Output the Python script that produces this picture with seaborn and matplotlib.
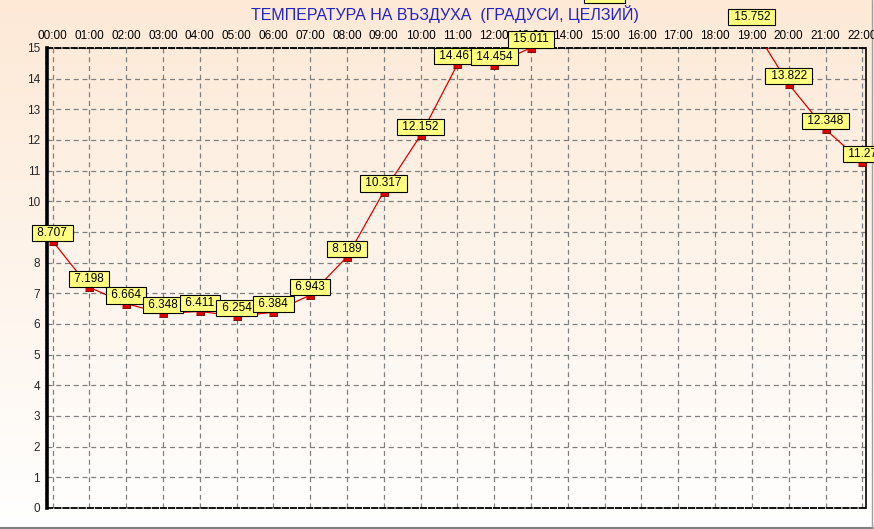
import numpy as np
import pandas as pd
import matplotlib
matplotlib.use("Agg")
import matplotlib.pyplot as plt
import seaborn as sns

# --- Data ---
hours = list(range(23))
hour_labels = [f"{h:02d}:00" for h in hours]
# 14:00-18:00 are above the 15 limit; only rough estimates (their labels fall off the chart)
temps = [8.707, 7.198, 6.664, 6.348, 6.411, 6.254, 6.384, 6.943, 8.189, 10.317,
         12.152, 14.467, 14.454, 15.011, 16.9, 16.45, 17.1, 17.0, 16.8, 15.752,
         13.822, 12.348, 11.27]
label_texts = ["8.707", "7.198", "6.664", "6.348", "6.411", "6.254", "6.384", "6.943",
               "8.189", "10.317", "12.152", "14.467", "14.454", "15.011", "16.9", "16.45",
               "17.1", "17.0", "16.8", "15.752", "13.822", "12.348", "11.27"]
y_ticks = list(range(16))
title = "ТЕМПЕРАТУРА НА ВЪЗДУХА  (ГРАДУСИ, ЦЕЛЗИЙ)"

df = pd.DataFrame({"hour": hours, "temp": temps})

sns.set_style("white")
plt.rcParams['font.family'] = ['Liberation Sans', 'DejaVu Sans']

fig = plt.figure(figsize=(8.74, 5.29), dpi=100)

# gradient background (peach -> white)
bg = fig.add_axes([0, 0, 1, 1], zorder=-10)
top = np.array([253, 233, 214]) / 255
bot = np.array([255, 255, 255]) / 255
t = np.linspace(0, 1, 256)[:, None]
grad = top[None, :] * (1 - t) + bot[None, :] * t
bg.imshow(grad[:, None, :], aspect='auto', extent=[0, 1, 0, 1])
bg.set_axis_off()
# window frame lines on right / bottom
bg.plot([0, 1], [0.001, 0.001], color='#808080', lw=1.5, transform=bg.transAxes, clip_on=False)
bg.plot([0.9975, 0.9975], [0, 1], color='#a0a0a0', lw=1.0, transform=bg.transAxes, clip_on=False)

ax = fig.add_axes([47 / 874, 21 / 529, 819 / 874, 460 / 529])
ax.patch.set_alpha(0)

# small rectangle marker hanging just below each point
sns.lineplot(data=df, x="hour", y="temp", ax=ax, color="#e00000", lw=0.9,
             marker=[(-1.75, 0), (1.75, 0), (1.75, -2), (-1.75, -2)],
             markersize=6.4, markerfacecolor="#dd0000", markeredgecolor="#700000",
             markeredgewidth=0.6, zorder=3)

for h, v, s in zip(hours, temps, label_texts):
    ax.annotate(f" {s} ", (h, v), xytext=(0, 1.6), textcoords='offset points',
                ha='center', va='bottom', fontsize=8.5, color='black',
                annotation_clip=False, zorder=5,
                bbox=dict(boxstyle='square,pad=0.18', fc='#ffff80', ec='black', lw=0.8))

ax.set_xlim(-0.15, 22.1)
ax.set_ylim(0, 15)
ax.set_xticks(hours)
ax.set_xticklabels(hour_labels)
ax.set_yticks(y_ticks)
ax.set_yticks(np.arange(0, 15.01, 0.25), minor=True)
ax.xaxis.tick_top()
ax.tick_params(axis='x', length=0, pad=4, labelsize=8.5, colors='black')
ax.tick_params(axis='y', which='major', length=4, width=1, pad=1, labelsize=8.5, direction='out')
ax.tick_params(axis='y', which='minor', length=1.5, width=0.8, direction='out', left=True)
ax.set_xlabel("")
ax.set_ylabel("")

ax.grid(True, which='major', color='#808080', linestyle=(0, (4, 3)), linewidth=0.9)
ax.set_axisbelow(True)

ax.spines['left'].set_linewidth(2.6)
ax.spines['left'].set_color('black')
ax.spines['right'].set_linewidth(1.2)
ax.spines['right'].set_color('black')
for side in ['top', 'bottom']:
    ax.spines[side].set_linestyle((0, (3, 1.5)))
    ax.spines[side].set_linewidth(1.3)
    ax.spines[side].set_color('black')

fig.text(445 / 874, 1 - 14 / 529, title, ha='center', va='center',
         fontsize=11.5, color='#2424c4')

fig.savefig("out.png", dpi=100)
